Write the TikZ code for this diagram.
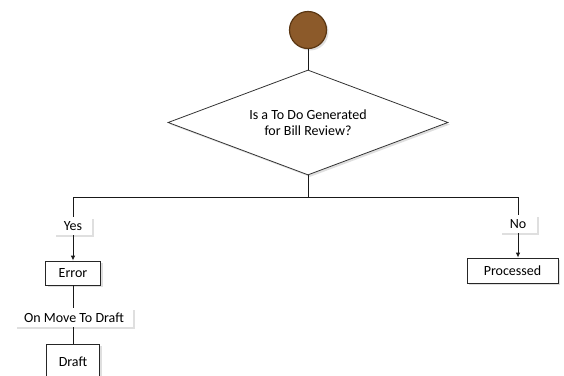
\documentclass[tikz,border=0pt]{standalone}
\usepackage{fontspec}
\setmainfont{Carlito}
\usepackage{xcolor}
\usetikzlibrary{shapes.geometric,shadows,arrows.meta}

\definecolor{dotbrown}{HTML}{8C5A2A}
\definecolor{dotedge}{HTML}{5A3612}

\begin{document}
\begin{tikzpicture}[x=1pt,y=-1pt,
  font=\fontsize{14}{15.5}\selectfont,
  shade/.style={drop shadow={shadow xshift=2pt,shadow yshift=-2pt,opacity=0.25}},
  startdot/.style={circle,draw=dotedge,line width=1.2pt,fill=dotbrown,minimum size=37pt,inner sep=0pt,shade},
  decision/.style={diamond,aspect=2.67,draw=black!80,line width=0.8pt,fill=white,minimum width=280pt,minimum height=105pt,inner sep=0pt,align=center,shade},
  statebox/.style={draw=black!85,line width=0.8pt,fill=white,minimum height=24pt,inner sep=0pt,shade},
  labelbox/.style={fill=white,minimum height=18pt,inner sep=0pt,shade},
  link/.style={draw=black!90,line width=0.9pt},
  >={Latex[length=5pt,width=4.5pt]}]
  \useasboundingbox (0,0) rectangle (564,375);

  % start and question
  \node[startdot] (start) at (308,30) {};
  \node[decision] (ask) at (308,122.5) {Is a To Do Generated\\for Bill Review?};
  \coordinate (split) at (308,197);

  % left branch
  \node[labelbox,minimum width=38pt] (yes) at (73,226) {Yes};
  \node[statebox,minimum width=55pt] (error) at (73,273) {Error};
  \node[labelbox,minimum width=118pt,minimum height=19pt] (move) at (74,317.5) {On Move To Draft};
  \node[statebox,minimum width=53pt,minimum height=36pt] (draft) at (73,362) {Draft};

  % right branch
  \node[labelbox,minimum width=37pt] (no) at (518,224) {No};
  \node[statebox,minimum width=91pt,minimum height=25pt] (done) at (512.5,270.5) {Processed};

  % connectors
  \draw[link] (start) -- (ask.north);
  \draw[link] (ask.south) -- (split);
  \draw[link] (split) -| (yes.north);
  \draw[link] (split) -| (no.north);
  \draw[link,->] (yes.south) -- (error.north);
  \draw[link] (error.south) -- (error.south |- move.north);
  \draw[link] (error.south |- move.south) -- (draft.north);
  \draw[link,->] (no.south) -- (no.south |- done.north);
\end{tikzpicture}
\end{document}
